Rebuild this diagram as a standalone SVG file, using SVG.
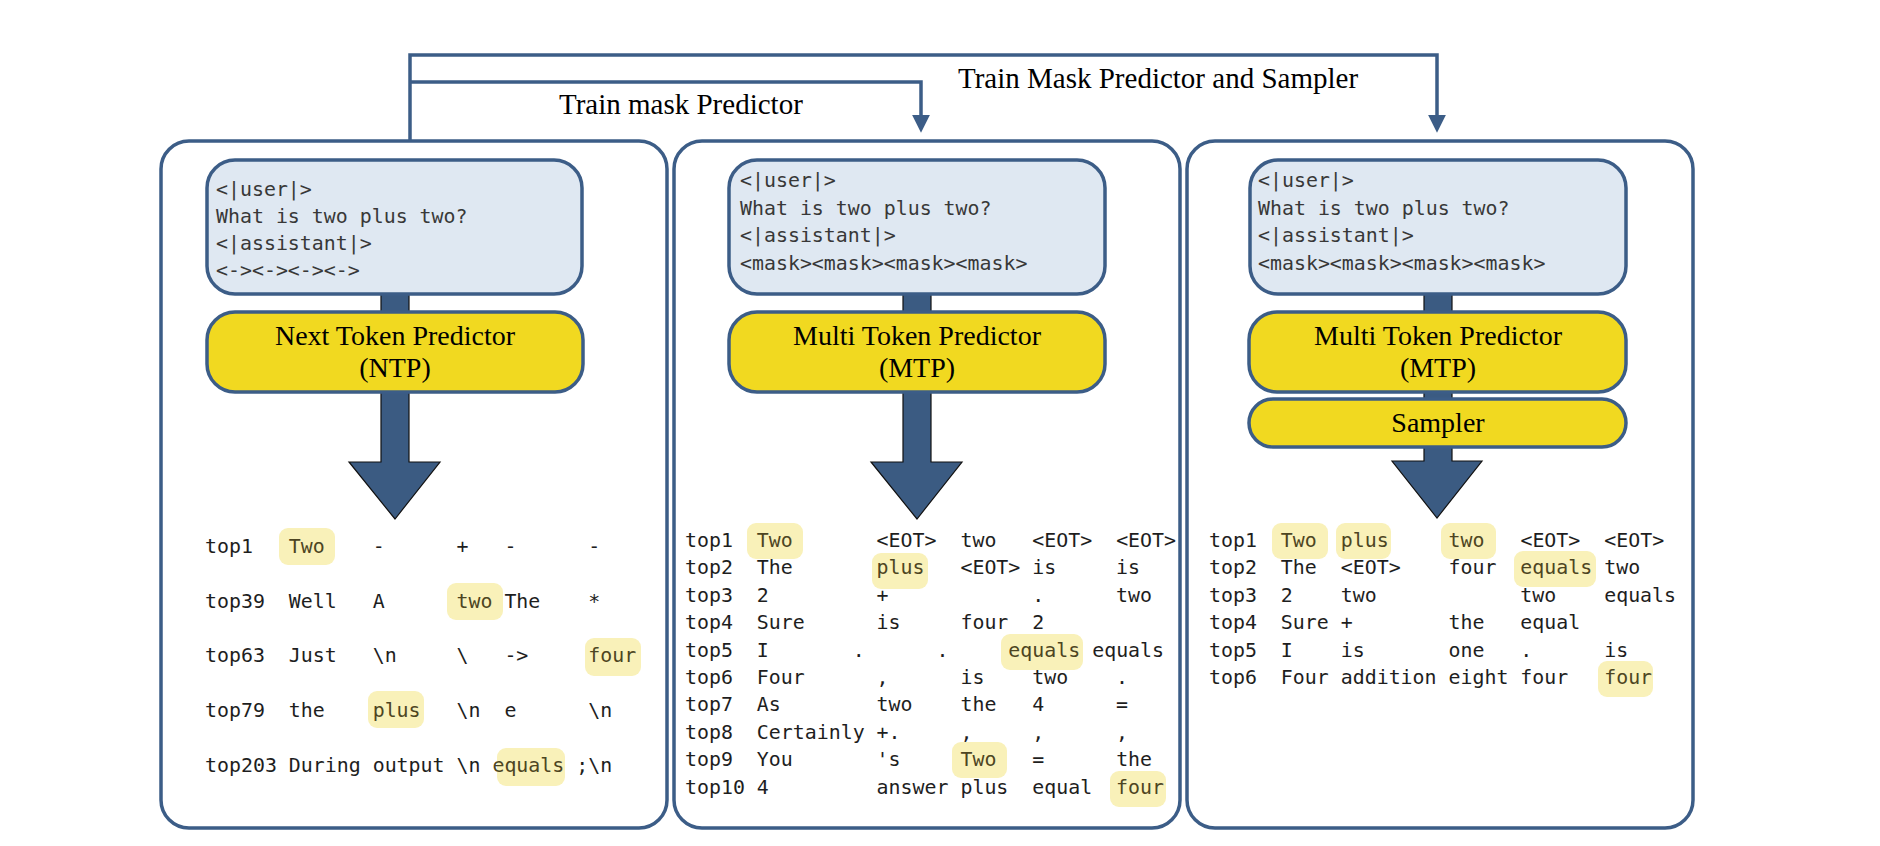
<svg xmlns="http://www.w3.org/2000/svg" width="1880" height="846" viewBox="0 0 1880 846">
<style>
.panel{fill:#fff;stroke:#3c5d87;stroke-width:3.5}
.prompt{fill:#dfe8f2;stroke:#3c5d87;stroke-width:3.5}
.model{fill:#f1d920;stroke:#3c5d87;stroke-width:3.5}
.mono{font-family:"DejaVu Sans Mono","Liberation Mono",monospace;font-size:19.9px;fill:#383838;white-space:pre}
.tbl{font-family:"DejaVu Sans Mono","Liberation Mono",monospace;font-size:19.9px;fill:#1e1e1e;white-space:pre}
.title{font-family:"Liberation Serif","Times New Roman",serif;font-size:28px;fill:#000;text-anchor:middle}
.label{font-family:"Liberation Serif","Times New Roman",serif;font-size:29px;fill:#000}
.hl{fill:#f9f1b9}
.hw{fill:#4d4522}
.shaft{fill:#3b5b82;stroke:#111;stroke-width:1.2}
.link{fill:none;stroke:#3c5d87;stroke-width:3.5}
</style>
<defs>
<marker id="ah" markerUnits="userSpaceOnUse" markerWidth="18" markerHeight="18" refX="10" refY="8" orient="auto" viewBox="0 0 16 16">
<path d="M0,0 L16,8 L0,16 z" fill="#3c5d87"/>
</marker>
</defs>

<g id="panel-ntp"><rect class="panel" x="161" y="141" width="506" height="687" rx="28"/></g>
<g id="panel-mtp"><rect class="panel" x="674" y="141" width="506" height="687" rx="28"/></g>
<g id="panel-mtp-sampler"><rect class="panel" x="1187" y="141" width="506" height="687" rx="28"/></g>

<g id="connectors">
<path class="link" d="M410,141 V55 H1437 V126" marker-end="url(#ah)"/>
<path class="link" d="M410,82 H921 V126" marker-end="url(#ah)"/>
<rect class="shaft" x="381" y="292" width="28" height="22"/>
<polygon class="shaft" points="381,390 409,390 409,462 440,462 395,519 349,462 381,462"/>
<rect class="shaft" x="903" y="292" width="28" height="22"/>
<polygon class="shaft" points="903,390 931,390 931,462 962,462 917,519 871,462 903,462"/>
<rect class="shaft" x="1424" y="292" width="28" height="22"/>
<rect class="shaft" x="1424" y="390" width="28" height="11"/>
<polygon class="shaft" points="1424,445 1452,445 1452,461 1482,461 1437,518 1392,461 1424,461"/>
</g>

<g id="label-train-mask"><text class="label" x="559" y="114">Train mask Predictor</text></g>
<g id="label-train-mask-sampler"><text class="label" x="958" y="88">Train Mask Predictor and Sampler</text></g>

<g id="prompt-ntp">
<rect class="prompt" x="207" y="160" width="375" height="134" rx="28"/>
<text class="mono" x="216" y="196">&lt;|user|&gt;</text>
<text class="mono" x="216" y="223">What is two plus two?</text>
<text class="mono" x="216" y="250">&lt;|assistant|&gt;</text>
<text class="mono" x="216" y="277">&lt;-&gt;&lt;-&gt;&lt;-&gt;&lt;-&gt;</text>
</g>
<g id="prompt-mtp">
<rect class="prompt" x="729" y="160" width="376" height="134" rx="28"/>
<text class="mono" x="740" y="187">&lt;|user|&gt;</text>
<text class="mono" x="740" y="214.5">What is two plus two?</text>
<text class="mono" x="740" y="242">&lt;|assistant|&gt;</text>
<text class="mono" x="740" y="269.5">&lt;mask&gt;&lt;mask&gt;&lt;mask&gt;&lt;mask&gt;</text>
</g>
<g id="prompt-mtp-sampler">
<rect class="prompt" x="1250" y="160" width="376" height="134" rx="28"/>
<text class="mono" x="1258" y="187">&lt;|user|&gt;</text>
<text class="mono" x="1258" y="214.5">What is two plus two?</text>
<text class="mono" x="1258" y="242">&lt;|assistant|&gt;</text>
<text class="mono" x="1258" y="269.5">&lt;mask&gt;&lt;mask&gt;&lt;mask&gt;&lt;mask&gt;</text>
</g>

<g id="model-ntp">
<rect class="model" x="207" y="312" width="376" height="80" rx="28"/>
<text class="title" x="395" y="345">Next Token Predictor</text>
<text class="title" x="395" y="377">(NTP)</text>
</g>
<g id="model-mtp">
<rect class="model" x="729" y="312" width="376" height="80" rx="28"/>
<text class="title" x="917" y="345">Multi Token Predictor</text>
<text class="title" x="917" y="377">(MTP)</text>
</g>
<g id="model-mtp-2">
<rect class="model" x="1249" y="312" width="377" height="80" rx="28"/>
<text class="title" x="1438" y="345">Multi Token Predictor</text>
<text class="title" x="1438" y="377">(MTP)</text>
</g>
<g id="sampler">
<rect class="model" x="1249" y="399" width="377" height="48" rx="24"/>
<text class="title" x="1438" y="432">Sampler</text>
</g>

<g id="table-ntp">
<rect class="hl" x="279" y="528" width="56" height="37" rx="9"/>
<rect class="hl" x="447" y="583" width="56" height="37" rx="9"/>
<rect class="hl" x="585" y="638" width="56" height="38" rx="9"/>
<rect class="hl" x="368" y="691" width="56" height="37" rx="9"/>
<rect class="hl" x="497" y="748" width="68" height="38" rx="9"/>
<text class="tbl" x="205" y="553">top1   <tspan class="hw">Two</tspan>    -      +   -      -</text>
<text class="tbl" x="205" y="607.5">top39  Well   A      <tspan class="hw">two</tspan> The    *</text>
<text class="tbl" x="205" y="662">top63  Just   \n     \   -&gt;     <tspan class="hw">four</tspan></text>
<text class="tbl" x="205" y="717">top79  the    <tspan class="hw">plus</tspan>   \n  e      \n</text>
<text class="tbl" x="205" y="772">top203 During output \n <tspan class="hw">equals</tspan> ;\n</text>
</g>

<g id="table-mtp">
<rect class="hl" x="747" y="523" width="56" height="36" rx="9"/>
<rect class="hl" x="872" y="553" width="56" height="36" rx="9"/>
<rect class="hl" x="1001" y="634" width="82" height="36" rx="9"/>
<rect class="hl" x="952" y="742" width="55" height="36" rx="9"/>
<rect class="hl" x="1110" y="771" width="56" height="36" rx="9"/>
<text class="tbl" x="685" y="547">top1  <tspan class="hw">Two</tspan>       &lt;EOT&gt;  two   &lt;EOT&gt;  &lt;EOT&gt;</text>
<text class="tbl" x="685" y="574.4">top2  The       <tspan class="hw">plus</tspan>   &lt;EOT&gt; is     is</text>
<text class="tbl" x="685" y="601.8">top3  2         +            .      two</text>
<text class="tbl" x="685" y="629.2">top4  Sure      is     four  2</text>
<text class="tbl" x="685" y="656.6">top5  I       .      .     <tspan class="hw">equals</tspan> equals</text>
<text class="tbl" x="685" y="684">top6  Four      ,      is    two    .</text>
<text class="tbl" x="685" y="711.4">top7  As        two    the   4      =</text>
<text class="tbl" x="685" y="738.8">top8  Certainly +.     ,     ,      ,</text>
<text class="tbl" x="685" y="766.2">top9  You       's     <tspan class="hw">Two</tspan>   =      the</text>
<text class="tbl" x="685" y="793.6">top10 4         answer plus  equal  <tspan class="hw">four</tspan></text>
</g>

<g id="table-mtp-sampler">
<rect class="hl" x="1272" y="523" width="56" height="36" rx="9"/>
<rect class="hl" x="1336" y="523" width="55" height="36" rx="9"/>
<rect class="hl" x="1441" y="523" width="55" height="36" rx="9"/>
<rect class="hl" x="1514" y="551" width="82" height="36" rx="9"/>
<rect class="hl" x="1598" y="661" width="55" height="36" rx="9"/>
<text class="tbl" x="1209" y="547">top1  <tspan class="hw">Two</tspan>  <tspan class="hw">plus</tspan>     <tspan class="hw">two</tspan>   &lt;EOT&gt;  &lt;EOT&gt;</text>
<text class="tbl" x="1209" y="574.4">top2  The  &lt;EOT&gt;    four  <tspan class="hw">equals</tspan> two</text>
<text class="tbl" x="1209" y="601.8">top3  2    two            two    equals</text>
<text class="tbl" x="1209" y="629.2">top4  Sure +        the   equal</text>
<text class="tbl" x="1209" y="656.6">top5  I    is       one   .      is</text>
<text class="tbl" x="1209" y="684">top6  Four addition eight four   <tspan class="hw">four</tspan></text>
</g>
</svg>
